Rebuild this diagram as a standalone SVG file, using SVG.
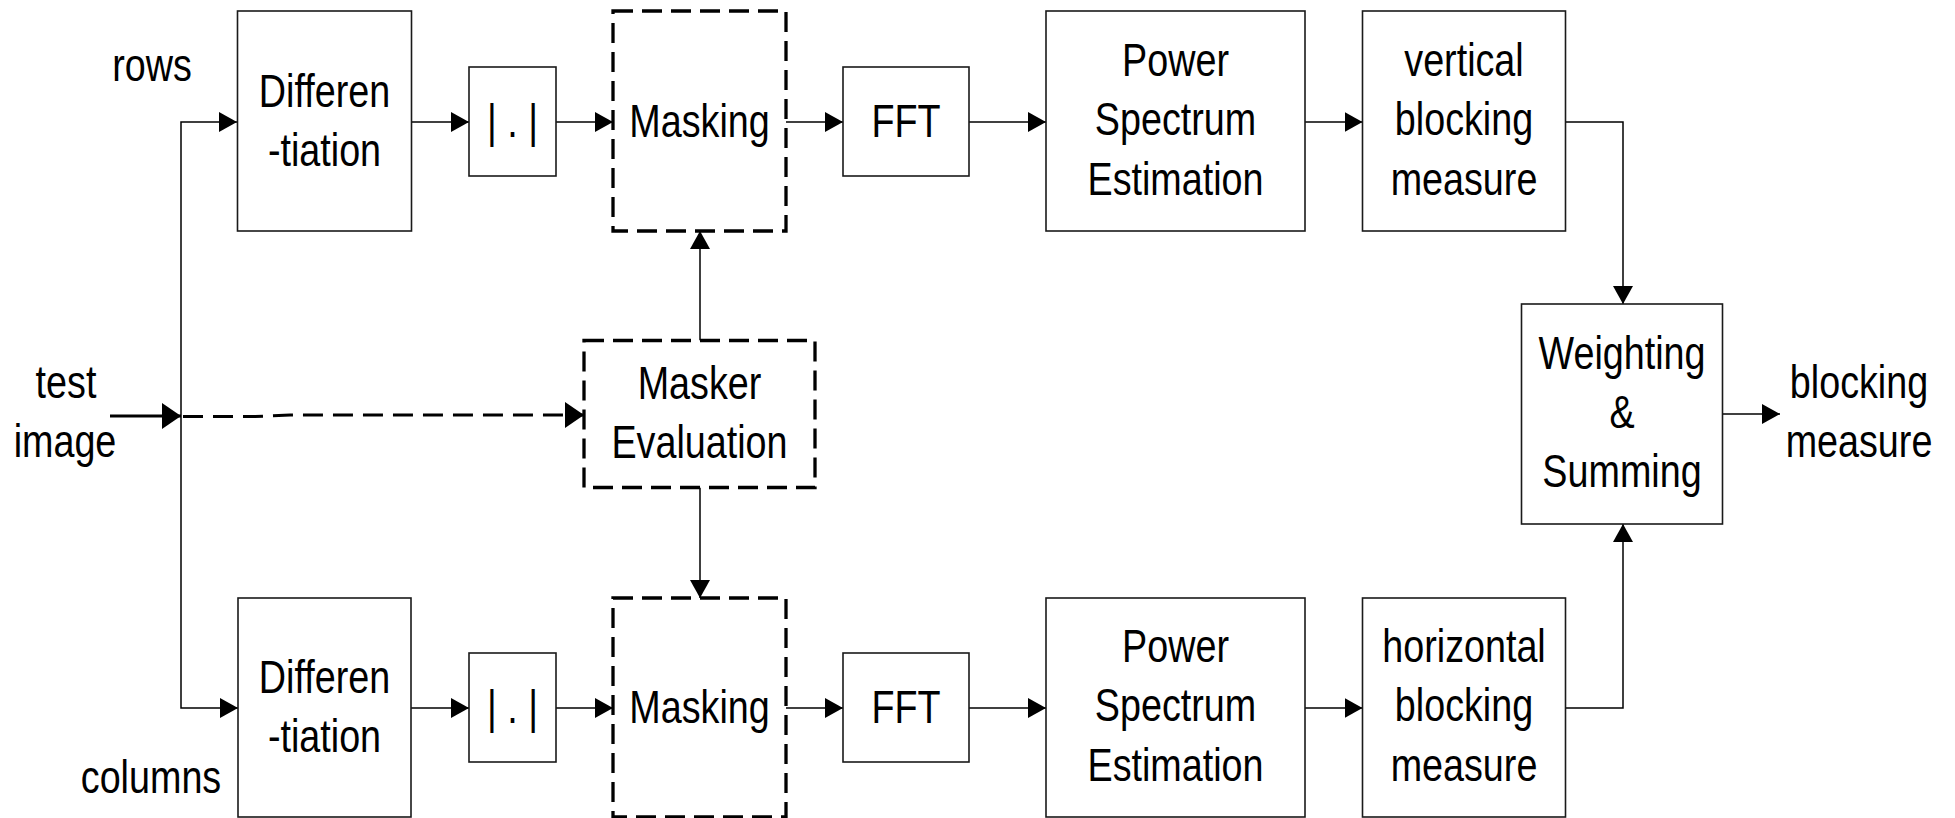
<svg xmlns="http://www.w3.org/2000/svg" width="1955" height="818" viewBox="0 0 1955 818">
  <style>
    .box { fill: #ffffff; stroke: #1a1a1a; stroke-width: 1.6; }
    .dbox { fill: #ffffff; stroke: #000000; stroke-width: 3.3; stroke-dasharray: 20 9; }
    .wire { fill: none; stroke: #000000; stroke-width: 1.5; }
    .thick { fill: none; stroke: #000000; stroke-width: 3; }
    .dwire { fill: none; stroke: #000000; stroke-width: 3; stroke-dasharray: 20 10; }
    /* narrow sans: regular face squeezed horizontally by each text's transform */
    text { font-family: "Liberation Sans", Arial, sans-serif; font-size: 46px; fill: #000000; text-anchor: middle; }
  </style>
  <defs>
    <marker id="arrow" markerUnits="userSpaceOnUse" viewBox="0 0 18 20" refX="18" refY="10" markerWidth="18" markerHeight="20" orient="auto">
      <path d="M0,0 L18,10 L0,20 Z" fill="#000000"/>
    </marker>
    <marker id="arrow-big" markerUnits="userSpaceOnUse" viewBox="0 0 19 26" refX="19" refY="13" markerWidth="19" markerHeight="26" orient="auto">
      <path d="M0,0 L19,13 L0,26 Z" fill="#000000"/>
    </marker>
  </defs>

  <rect width="1955" height="818" fill="#ffffff"/>

  <!-- free labels -->
  <g id="labels">
    <text transform="matrix(0.82 0 0 1 152 0)" y="81">rows</text>
    <text transform="matrix(0.82 0 0 1 151 0)" y="793">columns</text>
    <text transform="matrix(0.82 0 0 1 66 0)" y="398">test</text>
    <text transform="matrix(0.82 0 0 1 65 0)" y="457">image</text>
    <text transform="matrix(0.82 0 0 1 1859 0)" y="398">blocking</text>
    <text transform="matrix(0.82 0 0 1 1859 0)" y="457">measure</text>
  </g>

  <!-- connectors -->
  <g id="connectors">
    <!-- input split -->
    <path class="thick" d="M110,416 H181" marker-end="url(#arrow-big)"/>
    <path class="wire" d="M181,416 V122 H237" marker-end="url(#arrow)"/>
    <path class="wire" d="M181,416 V708 H238" marker-end="url(#arrow)"/>
    <path class="dwire" d="M183,416.5 L255,416.5 L290,415 L584,415" marker-end="url(#arrow-big)"/>
    <!-- masker outputs -->
    <path class="wire" d="M700,340.5 V231" marker-end="url(#arrow)"/>
    <path class="wire" d="M700,487.5 V598" marker-end="url(#arrow)"/>
    <!-- row chain -->
    <path class="wire" d="M411.5,122 H469" marker-end="url(#arrow)"/>
    <path class="wire" d="M556,122 H613" marker-end="url(#arrow)"/>
    <path class="wire" d="M786,122 H843" marker-end="url(#arrow)"/>
    <path class="wire" d="M969,122 H1046" marker-end="url(#arrow)"/>
    <path class="wire" d="M1305,122 H1362.5" marker-end="url(#arrow)"/>
    <path class="wire" d="M1565.5,122 H1623 V304" marker-end="url(#arrow)"/>
    <!-- column chain -->
    <path class="wire" d="M411,708 H469" marker-end="url(#arrow)"/>
    <path class="wire" d="M556,708 H613" marker-end="url(#arrow)"/>
    <path class="wire" d="M786,708 H843" marker-end="url(#arrow)"/>
    <path class="wire" d="M969,708 H1046" marker-end="url(#arrow)"/>
    <path class="wire" d="M1305,708 H1362.5" marker-end="url(#arrow)"/>
    <path class="wire" d="M1565.5,708 H1623 V524" marker-end="url(#arrow)"/>
    <!-- output -->
    <path class="wire" d="M1722.5,414 H1780" marker-end="url(#arrow)"/>
  </g>

  <!-- row branch -->
  <g id="diff-rows">
    <rect class="box" x="237.5" y="11" width="174" height="220"/>
    <text transform="matrix(0.82 0 0 1 324.5 0)" y="107">Differen</text>
    <text transform="matrix(0.82 0 0 1 324.5 0)" y="166">-tiation</text>
  </g>
  <g id="abs-rows">
    <rect class="box" x="469" y="67" width="87" height="109"/>
    <text transform="matrix(0.82 0 0 1 512.5 0)" y="137">| . |</text>
  </g>
  <g id="mask-rows">
    <rect class="dbox" x="613" y="11" width="173" height="220"/>
    <text transform="matrix(0.82 0 0 1 699.5 0)" y="137">Masking</text>
  </g>
  <g id="fft-rows">
    <rect class="box" x="843" y="67" width="126" height="109"/>
    <text transform="matrix(0.82 0 0 1 906 0)" y="137">FFT</text>
  </g>
  <g id="pse-rows">
    <rect class="box" x="1046" y="11" width="259" height="220"/>
    <text transform="matrix(0.82 0 0 1 1175.5 0)" y="76">Power</text>
    <text transform="matrix(0.82 0 0 1 1175.5 0)" y="135">Spectrum</text>
    <text transform="matrix(0.82 0 0 1 1175.5 0)" y="195">Estimation</text>
  </g>
  <g id="vertical-measure">
    <rect class="box" x="1362.5" y="11" width="203" height="220"/>
    <text transform="matrix(0.82 0 0 1 1464 0)" y="76">vertical</text>
    <text transform="matrix(0.82 0 0 1 1464 0)" y="135">blocking</text>
    <text transform="matrix(0.82 0 0 1 1464 0)" y="195">measure</text>
  </g>

  <!-- masker -->
  <g id="masker-evaluation">
    <rect class="dbox" x="584" y="340.5" width="231" height="147"/>
    <text transform="matrix(0.82 0 0 1 699.5 0)" y="399">Masker</text>
    <text transform="matrix(0.82 0 0 1 699.5 0)" y="458">Evaluation</text>
  </g>

  <!-- combiner -->
  <g id="weighting-summing">
    <rect class="box" x="1521.5" y="304" width="201" height="220"/>
    <text transform="matrix(0.82 0 0 1 1622 0)" y="369">Weighting</text>
    <text transform="matrix(0.82 0 0 1 1622 0)" y="428">&amp;</text>
    <text transform="matrix(0.82 0 0 1 1622 0)" y="487">Summing</text>
  </g>

  <!-- column branch -->
  <g id="diff-columns">
    <rect class="box" x="238" y="598" width="173" height="219"/>
    <text transform="matrix(0.82 0 0 1 324.5 0)" y="693">Differen</text>
    <text transform="matrix(0.82 0 0 1 324.5 0)" y="752">-tiation</text>
  </g>
  <g id="abs-columns">
    <rect class="box" x="469" y="653" width="87" height="109"/>
    <text transform="matrix(0.82 0 0 1 512.5 0)" y="723">| . |</text>
  </g>
  <g id="mask-columns">
    <rect class="dbox" x="613" y="598" width="173" height="219"/>
    <text transform="matrix(0.82 0 0 1 699.5 0)" y="723">Masking</text>
  </g>
  <g id="fft-columns">
    <rect class="box" x="843" y="653" width="126" height="109"/>
    <text transform="matrix(0.82 0 0 1 906 0)" y="723">FFT</text>
  </g>
  <g id="pse-columns">
    <rect class="box" x="1046" y="598" width="259" height="219"/>
    <text transform="matrix(0.82 0 0 1 1175.5 0)" y="662">Power</text>
    <text transform="matrix(0.82 0 0 1 1175.5 0)" y="721">Spectrum</text>
    <text transform="matrix(0.82 0 0 1 1175.5 0)" y="781">Estimation</text>
  </g>
  <g id="horizontal-measure">
    <rect class="box" x="1362.5" y="598" width="203" height="219"/>
    <text transform="matrix(0.82 0 0 1 1464 0)" y="662">horizontal</text>
    <text transform="matrix(0.82 0 0 1 1464 0)" y="721">blocking</text>
    <text transform="matrix(0.82 0 0 1 1464 0)" y="781">measure</text>
  </g>
</svg>
